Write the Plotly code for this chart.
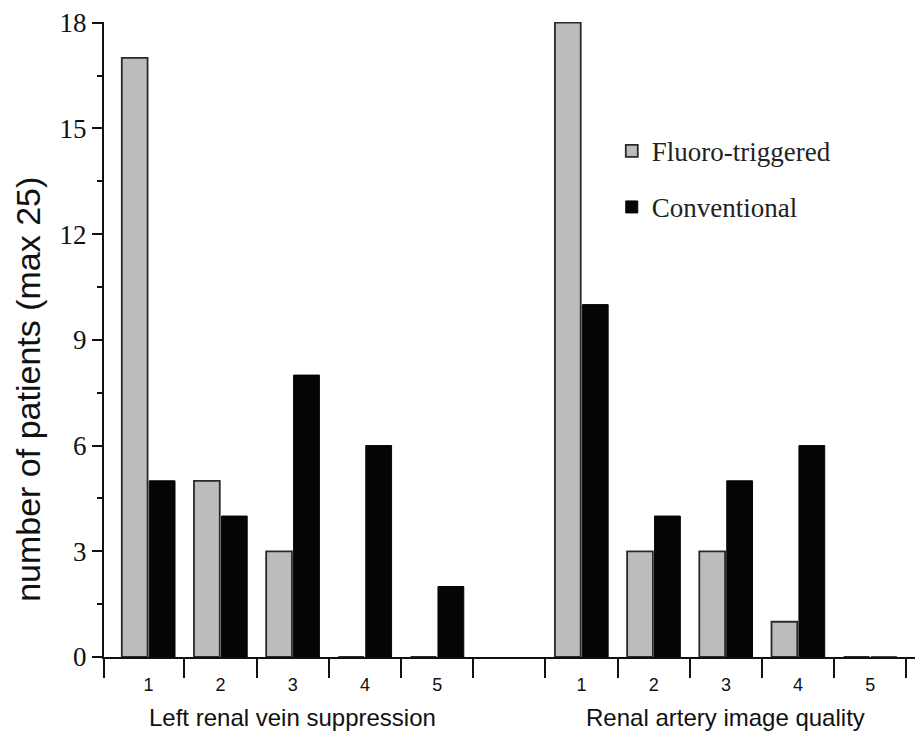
import plotly.graph_objects as go

# ---- data ----
score_labels = ["1", "2", "3", "4", "5"]
left_positions = [1, 2, 3, 4, 5]
right_positions = [7, 8, 9, 10, 11]
fluoro_left = [17, 5, 3, 0, 0]
conv_left = [5, 4, 8, 6, 2]
fluoro_right = [18, 3, 3, 1, 0]
conv_right = [10, 4, 5, 6, 0]
group_titles = ["Left renal vein suppression", "Renal artery image quality"]
y_ticks = [0, 3, 6, 9, 12, 15, 18]

x_all = left_positions + right_positions
fluoro = fluoro_left + fluoro_right
conv = conv_left + conv_right

SERIF = "Liberation Serif, Times New Roman, serif"
SANS = "Liberation Sans, Arial, Helvetica, sans-serif"

fig = go.Figure()
fig.add_trace(go.Bar(
    x=x_all, y=fluoro, name="Fluoro-triggered",
    marker=dict(color="#bcbcbc", line=dict(color="#2a2a2a", width=1.8)),
    legendgroup="a",
))
fig.add_trace(go.Bar(
    x=x_all, y=conv, name="Conventional",
    marker=dict(color="#050505", line=dict(color="#050505", width=1)),
    legendgroup="b",
))

xr = [0.385, 11.73]
boundary_ticks = [0.385] + [i + 0.5 for i in range(1, 12)]

fig.update_layout(
    width=915, height=723,
    margin=dict(l=96, r=0, t=12, b=74),
    paper_bgcolor="white", plot_bgcolor="white",
    barmode="group", bargap=0.24, bargroupgap=0.06,
    showlegend=True,
    legend=dict(
        x=0.62, y=0.835, xanchor="left", yanchor="top",
        font=dict(family=SERIF, size=27, color="#222"),
        bgcolor="rgba(0,0,0,0)",
        traceorder="grouped", tracegroupgap=18,
    ),
    xaxis=dict(
        range=xr, showgrid=False, zeroline=False,
        showline=True, linecolor="#111", linewidth=2,
        tickmode="array", tickvals=boundary_ticks,
        ticktext=[""] * len(boundary_ticks),
        ticks="outside", ticklen=19, tickwidth=2, tickcolor="#111",
    ),
    xaxis2=dict(
        range=xr, overlaying="x", anchor="y", side="bottom",
        showgrid=False, zeroline=False, showline=False,
        tickmode="array", tickvals=x_all,
        ticktext=score_labels + score_labels,
        ticks="", ticklabelstandoff=15,
        tickfont=dict(family=SANS, size=18, color="#111"),
    ),
    yaxis=dict(
        range=[0, 18.02], showgrid=False, zeroline=False,
        showline=True, linecolor="#111", linewidth=2,
        tickmode="array", tickvals=y_ticks,
        ticks="outside", ticklen=10, tickwidth=2, tickcolor="#111",
        tickfont=dict(family=SERIF, size=27, color="#111"),
        ticklabeloverflow="allow",
        minor=dict(tickmode="linear", tick0=1.5, dtick=3, ticks="outside",
                   ticklen=5, tickwidth=1.5, tickcolor="#111", showgrid=False),
    ),
)

# invisible trace to activate xaxis2
fig.add_trace(go.Scatter(x=[xr[0]], y=[0], xaxis="x2", mode="markers",
                         marker=dict(opacity=0), showlegend=False, hoverinfo="skip"))

# group titles
for xc, t in zip([3, 9], group_titles):
    fig.add_annotation(x=xc, y=-0.096, xref="x", yref="paper", text=t,
                       showarrow=False, yanchor="middle",
                       font=dict(family=SANS, size=24, color="#111"))

# y-axis title
fig.add_annotation(x=-0.093, y=0.422, xref="paper", yref="paper",
                   text="number of patients (max 25)", textangle=-90,
                   showarrow=False, xanchor="center", yanchor="middle",
                   font=dict(family=SANS, size=34, color="#111"))

fig.write_html("out.html")
